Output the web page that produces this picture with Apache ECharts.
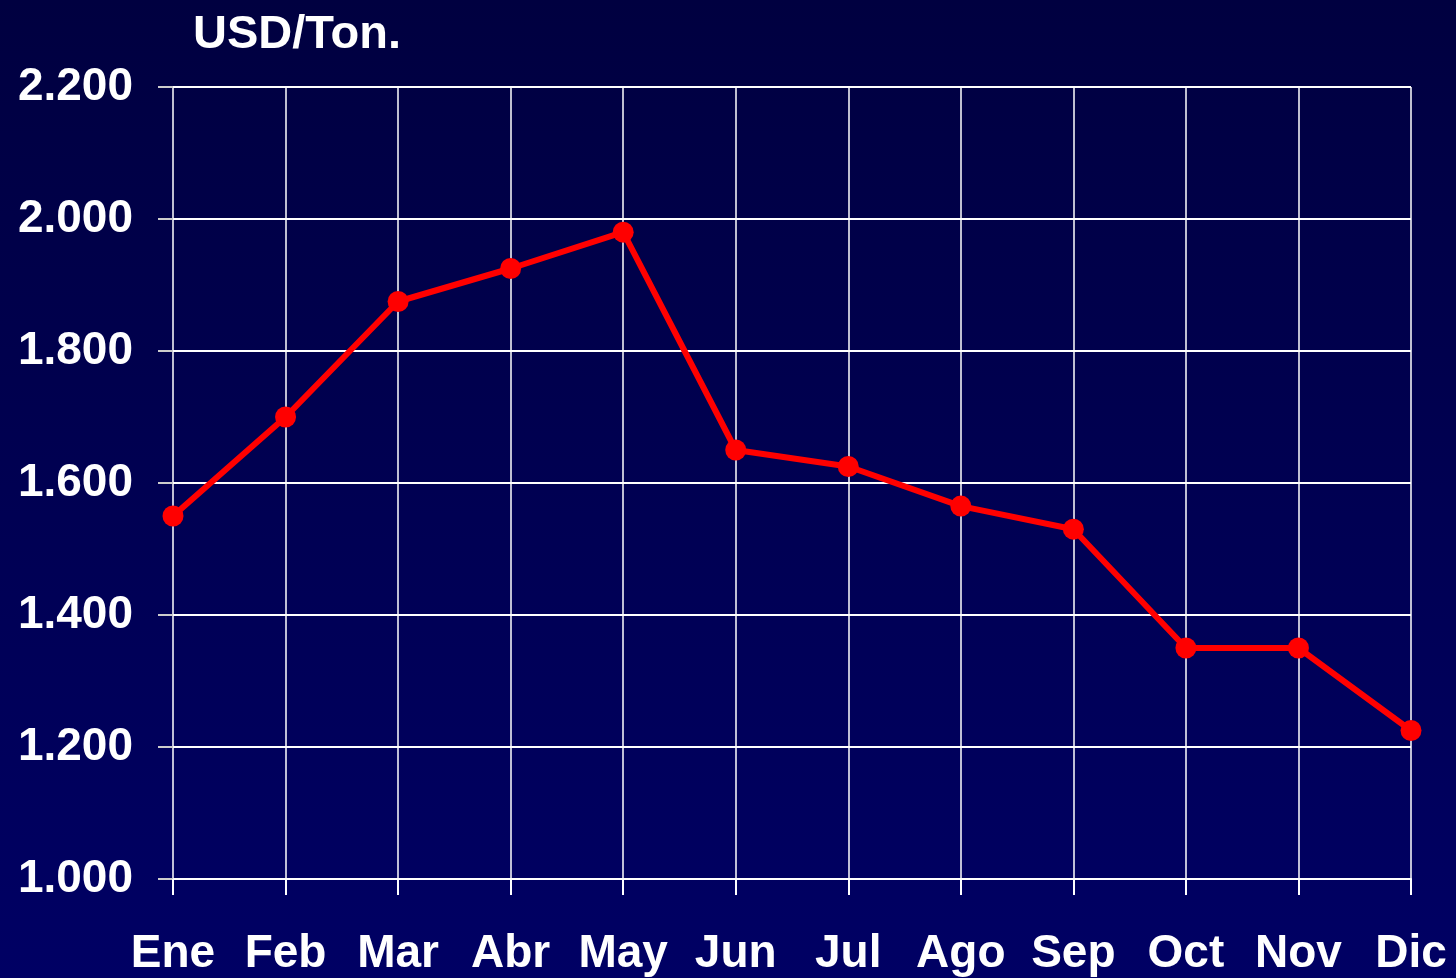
<!DOCTYPE html>
<html>
<head>
<meta charset="utf-8">
<script src="https://cdn.jsdelivr.net/npm/echarts@6/dist/echarts.min.js"></script>
<style>
html,body{margin:0;padding:0;width:1456px;height:978px;overflow:hidden;background:#000050;}
#chart{width:1456px;height:978px;}
</style>
</head>
<body>
<div id="chart"></div>
<script>
const categories = ['Ene','Feb','Mar','Abr','May','Jun','Jul','Ago','Sep','Oct','Nov','Dic'];
const prices = [1550, 1700, 1875, 1925, 1980, 1650, 1625, 1565, 1530, 1350, 1350, 1225];
const unitLabel = 'USD/Ton.';

const font = '"Liberation Sans", Arial, sans-serif';
const chart = echarts.init(document.getElementById('chart'), null, {renderer: 'canvas'});
chart.setOption({
  animation: false,
  backgroundColor: {
    type: 'linear', x: 0, y: 0, x2: 0, y2: 1,
    colorStops: [{offset: 0, color: '#000040'}, {offset: 1, color: '#000064'}]
  },
  title: {
    text: unitLabel,
    left: 188, top: 7,
    textStyle: {color: '#ffffff', fontSize: 47, fontWeight: 'bold', fontFamily: font}
  },
  grid: {left: 173, right: 45, top: 87, bottom: 99, containLabel: false},
  xAxis: {
    type: 'category',
    data: categories,
    boundaryGap: false,
    axisLine: {show: true, lineStyle: {color: '#ffffff', width: 2}},
    axisTick: {show: true, inside: false, length: 16, lineStyle: {color: '#ffffff', width: 2}},
    axisLabel: {color: '#ffffff', fontSize: 46, fontWeight: 'bold', fontFamily: font, margin: 52, interval: 0},
    splitLine: {show: true, lineStyle: {color: '#ffffff', width: 1.5}}
  },
  yAxis: {
    type: 'value',
    min: 1000, max: 2200, interval: 200,
    axisLine: {show: false},
    axisTick: {show: true, inside: false, length: 15, lineStyle: {color: '#cccccc', width: 2}},
    axisLabel: {
      color: '#ffffff', fontSize: 46, fontWeight: 'bold', fontFamily: font, margin: 40,
      formatter: v => { const s = String(v); return s.length > 3 ? s.slice(0, s.length - 3) + '.' + s.slice(-3) : s; }
    },
    splitLine: {show: true, lineStyle: {color: '#ffffff', width: 2}}
  },
  series: [{
    type: 'line',
    data: prices,
    symbol: 'circle',
    symbolSize: 21,
    lineStyle: {color: '#ff0000', width: 6},
    itemStyle: {color: '#ff0000'},
    z: 5
  }]
});
</script>
</body>
</html>
